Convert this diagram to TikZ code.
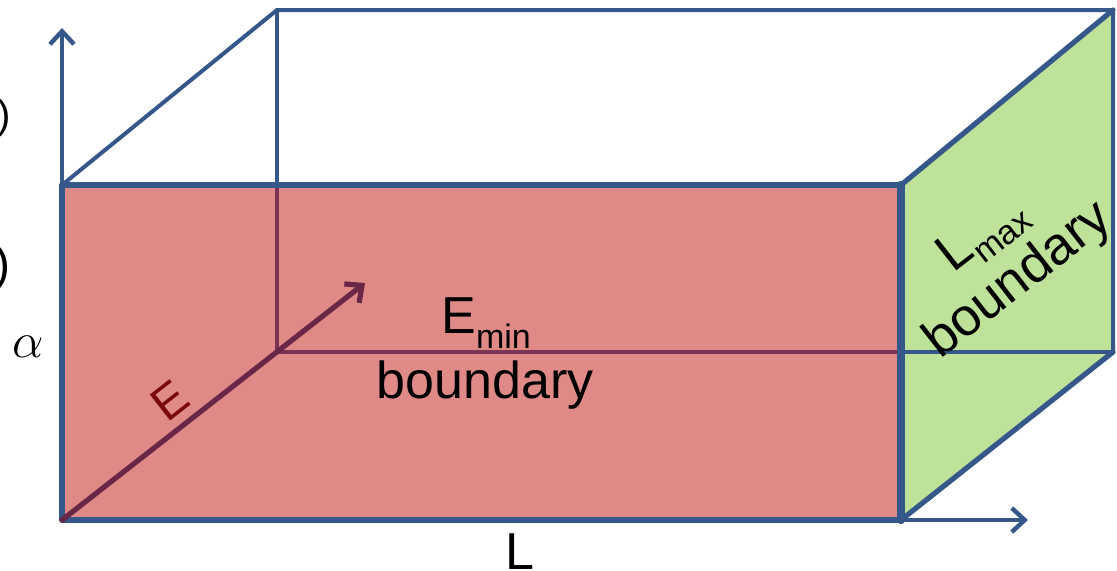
\documentclass[tikz,border=0pt]{standalone}
\usepackage{fontspec}
\setmainfont{Liberation Sans}
\usetikzlibrary{arrows.meta}
\definecolor{edgeblue}{HTML}{35578A}
\definecolor{facered}{HTML}{E08A88}
\definecolor{facegreen}{HTML}{BFE29A}
\definecolor{innerpurple}{HTML}{7A3352}
\definecolor{eaxis}{HTML}{6A2646}
\definecolor{elabel}{HTML}{7A0A0A}
\begin{document}
\begin{tikzpicture}[x=0.5pt,y=-0.5pt,
  edge/.style={draw=edgeblue,line width=2pt,line join=round,line cap=round},
  axisarrow/.style={-{Straight Barb[length=6.5pt,width=12pt]},line width=2.2pt,line cap=round},
  lbl/.style={font=\fontsize{26}{30}\selectfont,inner sep=0pt}]
\useasboundingbox (0,0) rectangle (1117,570);
\coordinate (O) at (62,520);
\coordinate (FTL) at (62,185);
\coordinate (FTR) at (901,185);
\coordinate (FBR) at (901,520);
\coordinate (BTL) at (277,10);
\coordinate (BTR) at (1113,10);
\coordinate (BBR) at (1113,352);
\coordinate (BBL) at (277,352);
\coordinate (YTOP) at (62,28);
\coordinate (XEND) at (1028,520);
\coordinate (ETIP) at (365,283);
\coordinate (RM) at (901,352);
\coordinate (BLM) at (277,185);

% green face
\fill[facegreen] (FTR) -- (BTR) -- (BBR) -- (FBR) -- cycle;
% back edges
\draw[edge] (FTL) -- (BTL) -- (BTR) -- (BBR);
\draw[edge] (BTL) -- (BLM);
\draw[edge] (RM) -- (BBR);
\draw[edge,line width=2.6pt] (FTR) -- (BTR);
\draw[edge,line width=2.6pt] (FBR) -- (BBR);
% red face
\fill[facered] (O) rectangle (FTR);
\draw[innerpurple,line width=2pt] (BLM) -- (BBL) -- (RM);
\draw[edge,line width=3pt] (O) rectangle (FTR);
\draw[edge,line width=4.2pt] (FTR) -- (FBR);
% axes
\draw[edgeblue,axisarrow] (O) -- (YTOP);
\draw[edgeblue,axisarrow] (O) -- (XEND);
\draw[eaxis,axisarrow,line width=2.6pt] (O) -- (ETIP);

% labels
\node[lbl,anchor=base east,font=\fontsize{20}{24}\selectfont] (p1) at (11,128) {)};
\node[lbl,anchor=base east,font=\fontsize{24}{28}\selectfont] (p2) at (11,280) {)};
\node[lbl,font=\fontsize{24}{28}\selectfont] (alpha) at (28,347) {$\alpha$};
\node[lbl,text=elabel,rotate=38,font=\fontsize{24}{28}\selectfont] (elab) at (170,401) {E};
\node[lbl,anchor=base west] (emin) at (441,333) {E\raisebox{-7.5pt}{\fontsize{17}{20}\selectfont min}};
\node[lbl,anchor=base] (ebound) at (485,398) {boundary};
\node[lbl,anchor=base] (llab) at (520,569) {L};
\node[lbl,rotate=38,align=center,font=\fontsize{26.5}{30}\selectfont] (lmax) at (1001,258) {L\raisebox{-6pt}{\fontsize{17}{20}\selectfont max}\\[0pt]boundary};
\end{tikzpicture}
\end{document}
